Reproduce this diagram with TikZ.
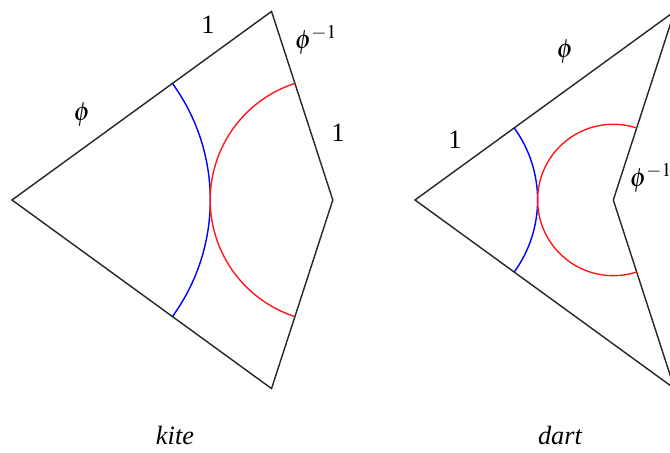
\documentclass[tikz,border=0pt]{standalone}
\usepackage{mathptmx}
\usepackage{fontspec}
\setmainfont{Liberation Serif}
\usepackage{tikz}
\usetikzlibrary{calc, positioning}

\begin{document}
\begin{tikzpicture}[x=0.02cm,y=0.02cm,line width=0.8pt,
    cote/.style={font=\fontsize{15}{18}\selectfont},
    legende/.style={font=\fontsize{15}{18}\selectfont\itshape},
    bord/.style={black!85,line join=miter},
    arcb/.style={blue,line width=0.8pt},
    arcr/.style={red!90!white,line width=0.8pt}]
            \useasboundingbox (0,0) rectangle (670,453);
            \clip (0,0) rectangle (670,453);

            % Sommets du cerf-volant (kite)
            \coordinate (kA) at (12,253);
            \coordinate (kT) at ($(kA)+(36:320.8)$);
            \coordinate (kR) at ($(kA)+(320.8,0)$);
            \coordinate (kB) at ($(kA)+(-36:320.8)$);

            % Sommets de la flèche (dart)
            \coordinate (dA) at (415,253);
            \coordinate (dT) at ($(dA)+(36:320.8)$);
            \coordinate (dI) at ($(dA)+(198.3,0)$);
            \coordinate (dB) at ($(dA)+(-36:320.8)$);

            % Contours
            \draw[bord] (kA) -- (kT) -- (kR) -- (kB) -- cycle;
            \draw[bord] (dA) -- (dT) -- (dI) -- (dB) -- cycle;

            % Arcs du cerf-volant
            \draw[arcb] ($(kA)+(-36:198.3)$) arc[start angle=-36, end angle=36, radius=198.3];
            \draw[arcr] ($(kR)+(108:122.6)$) arc[start angle=108, end angle=252, radius=122.6];

            % Arcs de la flèche
            \draw[arcb] ($(dA)+(-36:122.6)$) arc[start angle=-36, end angle=36, radius=122.6];
            \draw[arcr] ($(dI)+(72:75.7)$) arc[start angle=72, end angle=288, radius=75.7];

            % Longueurs des côtés
            \node[cote] (kphi) at (82,338) {$\phi$};
            \node[cote] (kun) at (208,428) {1};
            \node[cote] (kinv) at (316,413) {$\phi^{-1}$};
            \node[cote] (kdeux) at (338,320) {1};
            \node[cote] (dphi) at (565,401) {$\phi$};
            \node[cote] (dun) at (455,313) {1};
            \node[cote] (dinv) at (651,275) {$\phi^{-1}$};
            \node[cote] (ddeux) at (677,386) {1};

            % Noms des tuiles
            \node[legende] (kite) at (175,18) {kite};
            \node[legende] (dart) at (560,18) {dart};
        \end{tikzpicture}
\end{document}
